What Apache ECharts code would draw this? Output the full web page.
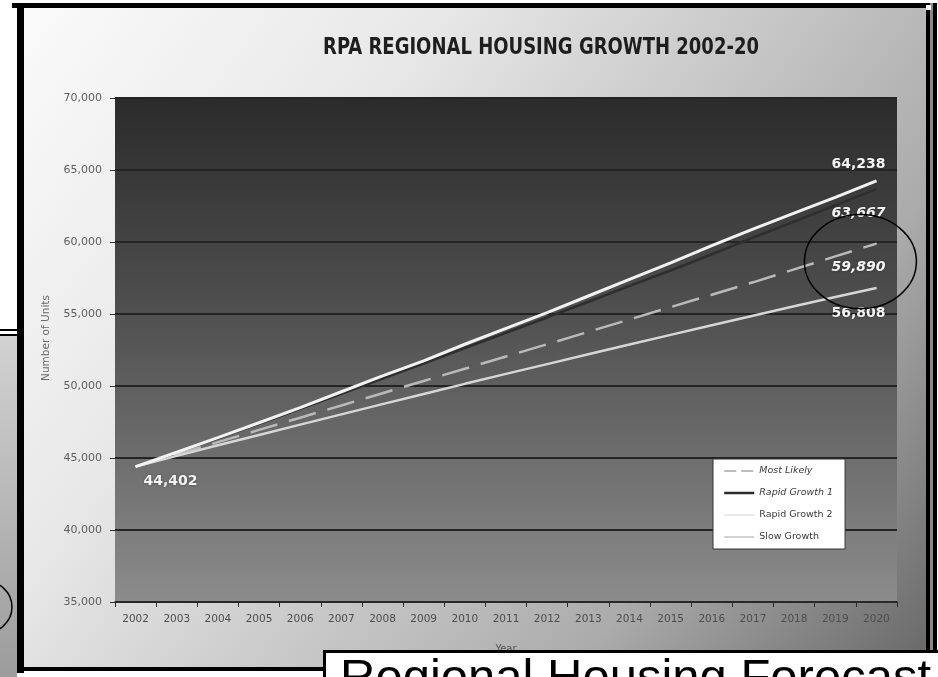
<!DOCTYPE html>
<html>
<head>
<meta charset="utf-8">
<script src="https://cdn.jsdelivr.net/npm/echarts@6/dist/echarts.min.js"></script>
<style>
  html, body { margin: 0; padding: 0; background: #ffffff; }
  #chart { width: 938px; height: 677px; }
</style>
</head>
<body>
<div id="chart"></div>
<script>
// Projected housing units per year, 2002-2020
const years = ['2002', '2003', '2004', '2005', '2006', '2007', '2008', '2009', '2010', '2011',
               '2012', '2013', '2014', '2015', '2016', '2017', '2018', '2019', '2020'];
const mostLikely   = [44402, 45250, 46100, 46950, 47800, 48650, 49500, 50350, 51200, 52050,
                      52900, 53760, 54620, 55480, 56340, 57200, 58100, 59000, 59890];
const rapidGrowth1 = [44402, 45370, 46370, 47380, 48410, 49460, 50520, 51560, 52640, 53700,
                      54760, 55850, 56950, 58020, 59150, 60300, 61420, 62540, 63667];
const rapidGrowth2 = [44402, 45400, 46420, 47450, 48500, 49600, 50700, 51750, 52900, 54000,
                      55100, 56250, 57400, 58550, 59750, 60900, 62000, 63100, 64238];
const slowGrowth   = [44402, 45150, 45880, 46600, 47320, 48030, 48740, 49450, 50150, 50840,
                      51520, 52200, 52880, 53550, 54220, 54880, 55540, 56180, 56808];
const seriesNames  = ['Most Likely', 'Rapid Growth 1', 'Rapid Growth 2', 'Slow Growth'];
const yRange = [35000, 70000];
const yStep = 5000;
const chartTitle = 'RPA REGIONAL HOUSING GROWTH 2002-20';
const yAxisTitle = 'Number of Units';
const xAxisTitle = 'Year';
const bannerText = 'Regional Housing Forecast';

const fmt = v => Number(v).toLocaleString('en-US');
const uiFont = "'DejaVu Sans', Verdana, sans-serif";

const valueLabel = (pos, offset, italic) => ({
  show: true,
  position: pos,
  offset: offset,
  formatter: p => fmt(p.value),
  color: '#f4f4f4',
  fontFamily: uiFont,
  fontWeight: 'bold',
  fontStyle: italic ? 'italic' : 'normal',
  fontSize: 14,
  textShadowColor: 'rgba(0,0,0,0.35)',
  textShadowBlur: 3
});

// only the labelled points get a (tiny) symbol so their labels can be placed
function withLabels(values, labels) {
  return values.map((v, i) => labels[i]
    ? { value: v, symbol: 'circle', symbolSize: 1, label: labels[i] }
    : v);
}

const last = years.length - 1;
const chart = echarts.init(document.getElementById('chart'), null, { renderer: 'canvas' });

const option = {
  animation: false,
  backgroundColor: '#ffffff',
  grid: {
    left: 115, right: 41, top: 98, bottom: 75,
    show: true,
    borderWidth: 0,
    backgroundColor: new echarts.graphic.LinearGradient(0, 0, 0, 1, [
      { offset: 0, color: '#2b2b2b' },
      { offset: 0.45, color: '#525252' },
      { offset: 1, color: '#8c8c8c' }
    ])
  },
  legend: {
    orient: 'vertical',
    left: 713, top: 459,
    backgroundColor: '#ffffff',
    borderColor: '#333333',
    borderWidth: 1,
    padding: [7, 12, 7, 10],
    itemGap: 12,
    itemWidth: 30,
    itemHeight: 11,
    itemStyle: { opacity: 0 },
    textStyle: { fontFamily: uiFont, fontSize: 9.5, color: '#3a3a3a' },
    data: [
      { name: seriesNames[0], textStyle: { fontStyle: 'italic' },
        lineStyle: { color: '#bdbdbd', width: 2, type: [12, 5] } },
      { name: seriesNames[1], textStyle: { fontStyle: 'italic' },
        lineStyle: { color: '#2a2a2a', width: 2.5 } },
      { name: seriesNames[2], lineStyle: { color: '#d4d4d4', width: 1 } },
      { name: seriesNames[3], lineStyle: { color: '#b4b4b4', width: 1.2 } }
    ]
  },
  xAxis: {
    type: 'category',
    data: years,
    boundaryGap: true,
    name: xAxisTitle,
    nameLocation: 'middle',
    nameGap: 42,
    nameTextStyle: { fontFamily: uiFont, fontSize: 10, color: '#555555' },
    axisLine: { lineStyle: { color: '#2a2a2a', width: 1.5 } },
    axisTick: { show: true, length: 5, lineStyle: { color: '#2a2a2a' } },
    axisLabel: { fontFamily: uiFont, fontSize: 10.5, color: '#4d4d4d', margin: 12 },
    splitLine: { show: false }
  },
  yAxis: {
    type: 'value',
    min: yRange[0], max: yRange[1], interval: yStep,
    axisLine: { show: false },
    axisTick: { show: true, length: 5, lineStyle: { color: '#333333' } },
    axisLabel: { fontFamily: uiFont, fontSize: 11, color: '#5e5e5e', margin: 13, formatter: v => fmt(v) },
    splitLine: { lineStyle: { color: '#242424', width: 2 } }
  },
  series: [
    {
      name: seriesNames[1], type: 'line', symbol: 'none', z: 2,
      data: withLabels(rapidGrowth1, { [last]: valueLabel('bottom', [-18, 12], true) }),
      lineStyle: { color: '#2e2e2e', width: 2.5 },
      itemStyle: { color: '#2e2e2e' }
    },
    {
      name: seriesNames[0], type: 'line', symbol: 'none', z: 3,
      data: withLabels(mostLikely, { [last]: valueLabel('bottom', [-18, 11], true) }),
      lineStyle: { color: '#b9b9b9', width: 2.5, type: [28, 12] },
      itemStyle: { color: '#b9b9b9' }
    },
    {
      name: seriesNames[3], type: 'line', symbol: 'none', z: 3,
      data: withLabels(slowGrowth, { [last]: valueLabel('bottom', [-18, 13], false) }),
      lineStyle: { color: '#d6d6d6', width: 2.5 },
      itemStyle: { color: '#d6d6d6' }
    },
    {
      name: seriesNames[2], type: 'line', symbol: 'none', z: 4,
      data: withLabels(rapidGrowth2, {
        0: valueLabel('bottom', [35, 2], false),
        [last]: valueLabel('top', [-18, -4], false)
      }),
      lineStyle: { color: '#f2f2f2', width: 3 },
      itemStyle: { color: '#f2f2f2' }
    }
  ],
  graphic: {
    elements: [
      // light panel behind the whole chart
      {
        type: 'rect', z: -20, silent: true,
        shape: { x: 24, y: 8, width: 902, height: 660 },
        style: {
          fill: new echarts.graphic.LinearGradient(0, 0, 1, 1, [
            { offset: 0, color: '#fafafa' },
            { offset: 0.3, color: '#e8e8e8' },
            { offset: 0.75, color: '#ababab' },
            { offset: 1, color: '#686868' }
          ])
        }
      },
      // frame edges
      { type: 'rect', z: -10, silent: true, shape: { x: 12, y: 3, width: 920, height: 5 }, style: { fill: '#000' } },
      { type: 'rect', z: -10, silent: true, shape: { x: 17, y: 3, width: 7, height: 670 }, style: { fill: '#000' } },
      { type: 'rect', z: -10, silent: true, shape: { x: 17, y: 667, width: 915, height: 4 }, style: { fill: '#000' } },
      { type: 'rect', z: -10, silent: true, shape: { x: 926, y: 3, width: 4, height: 668 }, style: { fill: '#000' } },
      { type: 'rect', z: -10, silent: true, shape: { x: 930, y: 3, width: 3, height: 668 }, style: { fill: '#8a8a8a' } },
      { type: 'rect', z: -10, silent: true, shape: { x: 933, y: 3, width: 4, height: 668 }, style: { fill: '#000' } },
      { type: 'rect', z: -9, silent: true, shape: { x: 926, y: 5, width: 5, height: 5 }, style: { fill: '#fff' } },
      // neighbouring slide panel on the left
      {
        type: 'rect', z: -10, silent: true,
        shape: { x: 0, y: 336, width: 17, height: 341 },
        style: {
          fill: new echarts.graphic.LinearGradient(0, 0, 0, 1, [
            { offset: 0, color: '#d2d2d2' },
            { offset: 1, color: '#9c9c9c' }
          ])
        }
      },
      { type: 'rect', z: -9, silent: true, shape: { x: 0, y: 329, width: 17, height: 2 }, style: { fill: '#000' } },
      { type: 'rect', z: -9, silent: true, shape: { x: 0, y: 334, width: 17, height: 2 }, style: { fill: '#000' } },
      {
        type: 'ellipse', z: -9, silent: true,
        shape: { cx: -18, cy: 607, rx: 30, ry: 27 },
        style: { fill: null, stroke: '#000', lineWidth: 1.5 }
      },
      // chart title
      {
        type: 'text', z: 10, silent: true,
        x: 541, y: 48, scaleX: 0.87,
        style: {
          text: chartTitle,
          fill: '#1e1e1e',
          font: "bold 23px 'Liberation Sans Narrow', 'DejaVu Sans Condensed', 'Arial Narrow', sans-serif",
          align: 'center',
          verticalAlign: 'middle'
        }
      },
      // value-axis title
      {
        type: 'text', z: 10, silent: true,
        x: 46, y: 338, rotation: Math.PI / 2,
        style: {
          text: yAxisTitle,
          fill: '#6a6a6a',
          font: "10.5px 'DejaVu Sans', Verdana, sans-serif",
          align: 'center',
          verticalAlign: 'middle'
        }
      },
      // caption box overlapping the bottom edge
      {
        type: 'rect', z: 50, silent: true,
        shape: { x: 324.5, y: 651.5, width: 640, height: 60 },
        style: { fill: '#ffffff', stroke: '#000000', lineWidth: 3 }
      },
      {
        type: 'text', z: 51, silent: true,
        x: 340, y: 655,
        style: {
          text: bannerText,
          fill: '#000000',
          font: "49px 'Liberation Sans', Arial, sans-serif",
          align: 'left',
          verticalAlign: 'top'
        }
      }
    ]
  }
};

chart.setOption(option);

// ring drawn around the "Most Likely" end value
const endPt = chart.convertToPixel({ xAxisIndex: 0, yAxisIndex: 0 }, [years[last], mostLikely[last]]);
chart.setOption({
  graphic: {
    elements: [{
      id: 'endRing', type: 'ellipse', z: 20, silent: true,
      shape: { cx: endPt[0] - 16, cy: endPt[1] + 18, rx: 56, ry: 47 },
      style: { fill: null, stroke: '#000000', lineWidth: 1.5 }
    }]
  }
});
</script>
</body>
</html>
